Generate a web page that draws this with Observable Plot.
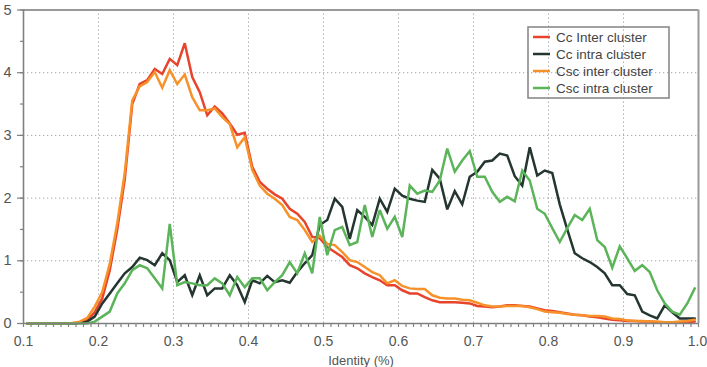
<!DOCTYPE html>
<html>
<head>
<meta charset="utf-8">
<script src="https://cdn.jsdelivr.net/npm/d3@7"></script>
<script src="https://cdn.jsdelivr.net/npm/@observablehq/plot@0.6"></script>
<style>
  html, body { margin: 0; padding: 0; background: #fff; }
  #chart svg { display: block; }
</style>
</head>
<body>
<div id="chart"></div>
<script>
// Identity bins: 0.01 wide, plotted at their centres (0.105 … 0.995)
const identity = d3.range(90).map(i => +(0.105 + i * 0.01).toFixed(3));

const seriesNames = ["Cc Inter cluster", "Cc intra cluster", "Csc inter cluster", "Csc intra cluster"];
const seriesColors = ["#e8432b", "#24362f", "#f7922a", "#5cb45a"];

const ccInter = [
  0, 0, 0, 0, 0, 0, 0, 0.01, 0.05, 0.18,
  0.40, 0.85, 1.50, 2.30, 3.50, 3.82, 3.88, 4.06, 3.98, 4.22,
  4.12, 4.47, 3.93, 3.69, 3.32, 3.46, 3.35, 3.19, 3.01, 3.04,
  2.50, 2.26, 2.15, 2.06, 1.99, 1.83, 1.75, 1.62, 1.38, 1.36,
  1.22, 1.14, 1.06, 0.93, 0.88, 0.80, 0.74, 0.69, 0.61, 0.61,
  0.53, 0.48, 0.48, 0.42, 0.37, 0.34, 0.34, 0.34, 0.33, 0.32,
  0.28, 0.27, 0.26, 0.27, 0.29, 0.29, 0.28, 0.27, 0.24, 0.21,
  0.20, 0.18, 0.16, 0.14, 0.13, 0.11, 0.10, 0.08, 0.06, 0.05,
  0.04, 0.04, 0.03, 0.03, 0.02, 0.02, 0.02, 0.02, 0.02, 0.03
];

const ccIntra = [
  0, 0, 0, 0, 0, 0, 0, 0.01, 0.03, 0.11,
  0.32, 0.48, 0.64, 0.80, 0.90, 1.05, 1.01, 0.93, 1.12, 1.01,
  0.66, 0.77, 0.45, 0.77, 0.45, 0.56, 0.56, 0.77, 0.61, 0.34,
  0.69, 0.64, 0.76, 0.66, 0.69, 0.65, 0.82, 0.96, 1.09, 1.57,
  1.65, 1.99, 1.86, 1.35, 1.81, 1.70, 1.57, 1.99, 1.78, 2.15,
  2.04, 1.99, 1.96, 1.94, 2.45, 2.31, 1.82, 2.11, 1.90, 2.34,
  2.42, 2.58, 2.60, 2.71, 2.68, 2.35, 2.20, 2.81, 2.36, 2.44,
  2.40, 1.90, 1.50, 1.12, 1.04, 0.98, 0.90, 0.80, 0.61, 0.61,
  0.47, 0.45, 0.19, 0.13, 0.08, 0.29, 0.18, 0.08, 0.08, 0.08
];

const cscInter = [
  0, 0, 0, 0, 0, 0, 0.01, 0.03, 0.09, 0.27,
  0.50, 0.95, 1.60, 2.40, 3.56, 3.78, 3.85, 4.01, 3.76, 4.04,
  3.82, 3.97, 3.61, 3.40, 3.40, 3.43, 3.29, 3.18, 2.81, 2.97,
  2.45, 2.20, 2.07, 1.99, 1.89, 1.70, 1.65, 1.49, 1.30, 1.40,
  1.27, 1.25, 1.14, 1.01, 0.98, 0.90, 0.82, 0.77, 0.64, 0.69,
  0.60, 0.56, 0.55, 0.55, 0.45, 0.41, 0.40, 0.40, 0.38, 0.37,
  0.33, 0.29, 0.27, 0.27, 0.28, 0.28, 0.28, 0.26, 0.23, 0.19,
  0.18, 0.17, 0.15, 0.14, 0.13, 0.12, 0.12, 0.11, 0.08, 0.07,
  0.05, 0.04, 0.04, 0.03, 0.03, 0.02, 0.02, 0.03, 0.04, 0.06
];

const cscIntra = [
  0, 0, 0, 0, 0, 0, 0, 0, 0, 0.03,
  0.11, 0.19, 0.48, 0.64, 0.85, 0.93, 0.88, 0.72, 0.56, 1.59,
  0.61, 0.66, 0.64, 0.61, 0.61, 0.72, 0.64, 0.45, 0.74, 0.58,
  0.72, 0.72, 0.53, 0.66, 0.77, 0.98, 0.80, 1.12, 0.80, 1.70,
  1.09, 1.49, 1.54, 1.25, 1.30, 1.89, 1.38, 1.81, 1.51, 1.70,
  1.38, 2.20, 2.07, 2.12, 2.10, 2.28, 2.79, 2.42, 2.60, 2.75,
  2.34, 2.34, 2.10, 1.94, 2.02, 1.95, 2.44, 2.28, 1.83, 1.75,
  1.52, 1.30, 1.52, 1.73, 1.65, 1.83, 1.33, 1.22, 0.89, 1.23,
  1.04, 0.84, 0.93, 0.82, 0.53, 0.32, 0.19, 0.14, 0.32, 0.56
];

const xMajorTicks = [0.1, 0.2, 0.3, 0.4, 0.5, 0.6, 0.7, 0.8, 0.9, 1.0];
const yMajorTicks = [0, 1, 2, 3, 4, 5];

const seriesValues = [ccInter, ccIntra, cscInter, cscIntra];
const rows = seriesNames.flatMap((name, s) =>
  identity.map((x, i) => ({series: name, identity: x, value: seriesValues[s][i]}))
);

const xMinorTicks = d3.range(10, 101).map(i => i / 100);
const yHalfTicks = d3.range(0, 11).map(i => i / 2);
const xGrid = xMajorTicks.filter(v => v > 0.1 && v < 1.0);
const yGrid = yMajorTicks.filter(v => v > 0 && v < 5);

const W = 707, H = 367;
const margin = {top: 9.5, right: 9, bottom: 44, left: 23};
const frameW = W - margin.left - margin.right;
const frameH = H - margin.top - margin.bottom;

const axisGray = "#808080";
const textGray = "#555";
const fontFamily = "'Liberation Sans', Arial, Helvetica, sans-serif";
const gridStyle = {stroke: "#a6a6a6", strokeOpacity: 1, strokeWidth: 1, strokeDasharray: "1.3,2.7"};

const chart = Plot.plot({
  width: W,
  height: H,
  marginLeft: margin.left,
  marginRight: margin.right,
  marginTop: margin.top,
  marginBottom: margin.bottom,
  style: {fontFamily, background: "#fff", color: textGray},
  x: {domain: [0.1, 1.0]},
  y: {domain: [0, 5]},
  color: {domain: seriesNames, range: seriesColors},
  marks: [
    Plot.gridX(xGrid, gridStyle),
    Plot.gridY(yGrid, gridStyle),
    Plot.ruleY([5], {stroke: "#999", strokeWidth: 2}),
    Plot.ruleX([1.0], {stroke: "#999", strokeWidth: 2}),
    Plot.lineY(rows, {
      x: "identity", y: "value", z: "series", stroke: "series",
      strokeWidth: 2.5, strokeLinejoin: "miter", strokeMiterlimit: 3
    }),
    // axis lines
    Plot.ruleX([0.1], {stroke: axisGray, strokeWidth: 1.6}),
    Plot.ruleY([0], {stroke: axisGray, strokeWidth: 1.6}),
    // outward tick marks: every 0.01 on x, every 0.5 on y (longer on integers)
    Plot.ruleX(xMinorTicks, {insetTop: frameH, insetBottom: -4, stroke: axisGray, strokeWidth: 1.2}),
    Plot.ruleY(yHalfTicks, {insetLeft: -3, insetRight: frameW, stroke: axisGray, strokeWidth: 1.2}),
    Plot.ruleY(yMajorTicks, {insetLeft: -6, insetRight: frameW, stroke: axisGray, strokeWidth: 1.2}),
    // tick labels
    Plot.axisX(xMajorTicks.slice(0, -1), {
      tickSize: 0, tickPadding: 13, fontSize: 14, fill: textGray,
      tickFormat: d3.format(".1f"), label: null
    }),
    Plot.axisX(xMajorTicks.slice(-1), {
      tickSize: 0, tickPadding: 13, fontSize: 14, fill: textGray, dx: -1,
      tickFormat: d3.format(".1f"), label: null
    }),
    Plot.axisY(yMajorTicks, {
      tickSize: 0, tickPadding: 12, fontSize: 14.5, fill: textGray,
      tickFormat: d3.format("d"), label: null
    }),
    Plot.text(["Identity (%)"], {
      frameAnchor: "bottom", dy: 37, lineAnchor: "middle",
      fontSize: 13, fill: textGray
    })
  ]
});

document.getElementById("chart").append(chart);

// Legend box drawn inside the plot area, top right
const svg = d3.select(chart);
const legend = svg.append("g")
  .attr("transform", "translate(528,27)")
  .style("font-family", fontFamily);
legend.append("rect")
  .attr("x", 0).attr("y", 0).attr("width", 141).attr("height", 71)
  .attr("fill", "none").attr("stroke", "#8a8a8a").attr("stroke-width", 1.6);
seriesNames.forEach((name, i) => {
  const cy = 10 + i * 17;
  legend.append("line")
    .attr("x1", 5).attr("x2", 22).attr("y1", cy).attr("y2", cy)
    .attr("stroke", seriesColors[i]).attr("stroke-width", 2.5);
  legend.append("text")
    .attr("x", 28).attr("y", cy).attr("dy", "0.36em")
    .attr("text-anchor", "start")
    .attr("font-size", 13.5).attr("fill", "#444")
    .text(name);
});
</script>
</body>
</html>
